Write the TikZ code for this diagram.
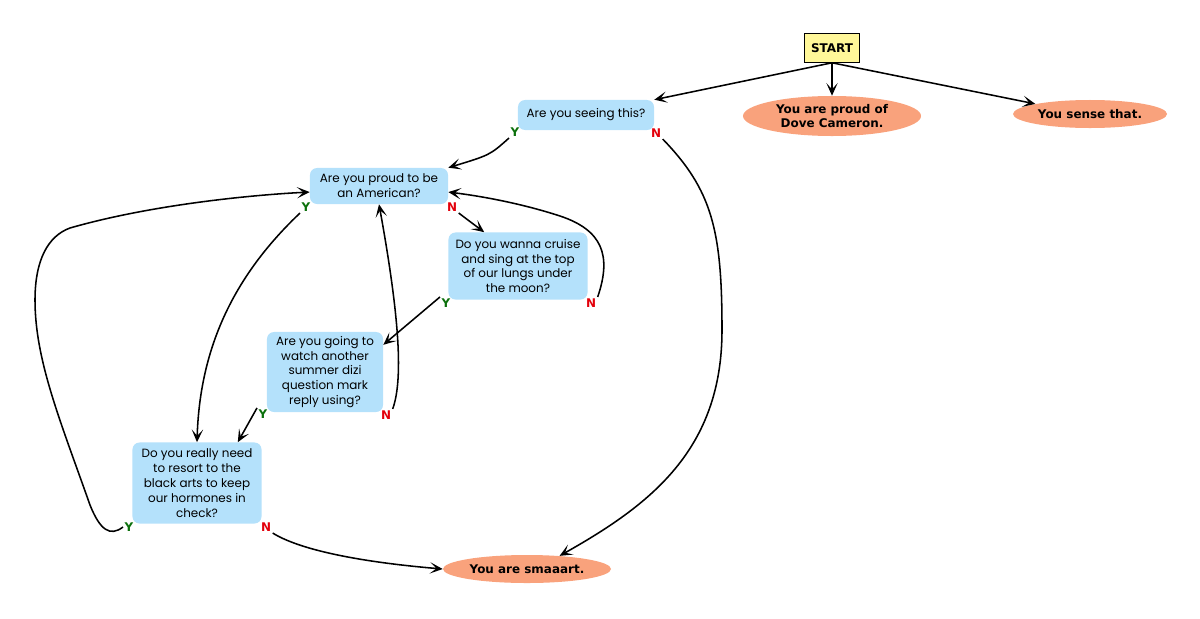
\documentclass[tikz,border=0pt]{standalone}
\usepackage{fontspec}
\setmainfont{DejaVu Sans}
\newfontfamily\qfont{Poppins}
\usetikzlibrary{shapes.geometric, arrows.meta}

\definecolor{qblue}{HTML}{B4E1FB}
\definecolor{salmon}{HTML}{F9A27C}
\definecolor{startyellow}{HTML}{FFF799}
\definecolor{yesgreen}{HTML}{0B700B}
\definecolor{nored}{HTML}{E3000B}

\begin{document}
\begin{tikzpicture}[x=0.025cm, y=-0.025cm,
question/.style={rectangle, rounded corners=5pt, fill=qblue, align=center,
  inner sep=1pt, font=\qfont\fontsize{8.5}{10.6}\selectfont},
answer/.style={ellipse, fill=salmon, align=center, inner sep=0pt,
  font=\bfseries\fontsize{8.5}{9.4}\selectfont},
yes/.style={text=yesgreen, inner sep=1pt, font=\bfseries\fontsize{8.5}{9}\selectfont},
no/.style={text=nored, inner sep=1pt, font=\bfseries\fontsize{8.5}{9}\selectfont},
arr/.style={-{Stealth[length=9pt, width=8pt, inset=4.5pt]}, line width=1.1pt},
]

\useasboundingbox (0,0) rectangle (1200,618);

\node[rectangle, draw=black, fill=startyellow, minimum width=1.375cm,
minimum height=0.725cm, inner sep=0pt, font=\bfseries\fontsize{8.5}{9}\selectfont]
(start) at (832, 48)
{START};

\node[answer, minimum width=4.45cm, minimum height=1.0cm]
(dove) at (832, 116)
{You are proud of\\Dove Cameron.};

\node[answer, minimum width=3.85cm, minimum height=0.7cm]
(sense) at (1090, 114)
{You sense that.};

\node[question, minimum width=3.4cm, minimum height=0.75cm]
(seeing) at (586, 115)
{Are you seeing this?};

\node[question, minimum width=3.45cm, minimum height=0.9cm]
(proud) at (379, 186)
{Are you proud to be\\an American?};

\node[question, minimum width=3.475cm, minimum height=1.675cm]
(cruise) at (518, 266)
{Do you wanna cruise\\and sing at the top\\of our lungs under\\the moon?};

\node[question, minimum width=2.9cm, minimum height=2.0cm]
(going) at (325, 372)
{Are you going to\\watch another\\summer dizi\\question mark\\reply using?};

\node[question, minimum width=3.225cm, minimum height=2.025cm]
(really) at (197, 483)
{Do you really need\\to resort to the\\black arts to keep\\our hormones in\\check?};

\node[answer, minimum width=4.2cm, minimum height=0.7cm]
(smart) at (527, 569)
{You are smaaart.};

% answer labels
\node[yes] (seeY) at (515, 132) {Y};
\node[no] (seeN) at (656, 133) {N};
\node[yes] (proudY) at (306, 207) {Y};
\node[no] (proudN) at (452, 207) {N};
\node[yes] (cruiseY) at (446, 303) {Y};
\node[no] (cruiseN) at (591, 303) {N};
\node[yes] (goingY) at (263, 414) {Y};
\node[no] (goingN) at (386, 415) {N};
\node[yes] (reallyY) at (129, 527) {Y};
\node[no] (reallyN) at (266, 527) {N};

\draw[arr] (start.south) -- (seeing.north east);
\draw[arr] (start.south) -- (dove.north);
\draw[arr] (start.south) -- (sense.north west);

\draw[arr] (seeY.south west) .. controls (490, 155) .. (proud.north east);
\draw[arr] (seeN.south east) .. controls (712, 190) and (722, 230) .. (722, 330)
  .. controls (722, 450) and (650, 505) .. (smart.22);

\draw[arr] (proudN.south east) -- (cruise.135);
\draw[arr] (proudY.south west) .. controls (240, 270) and (200, 340) .. (really.north);

\draw[arr] (cruiseN.north east) .. controls (612, 255) and (602, 230) .. (560, 216)
  .. controls (520, 203) and (480, 196) .. (proud.-5);
\draw[arr] (cruiseY.north west) -- (going.25);

\draw[arr] (goingN.north east) .. controls (403, 380) and (400, 320) .. (proud.south);
\draw[arr] (goingY.north west) -- (really.45);

\draw[arr] (reallyY.west) .. controls (110, 537) and (100, 530) .. (90, 505)
  .. controls (60, 420) and (35, 360) .. (35, 300)
  .. controls (35, 260) and (48, 236) .. (70, 228)
  .. controls (150, 205) and (250, 195) .. (proud.185);
\draw[arr] (reallyN.south east) .. controls (300, 550) and (360, 562) .. (smart.west);

\end{tikzpicture}
\end{document}
